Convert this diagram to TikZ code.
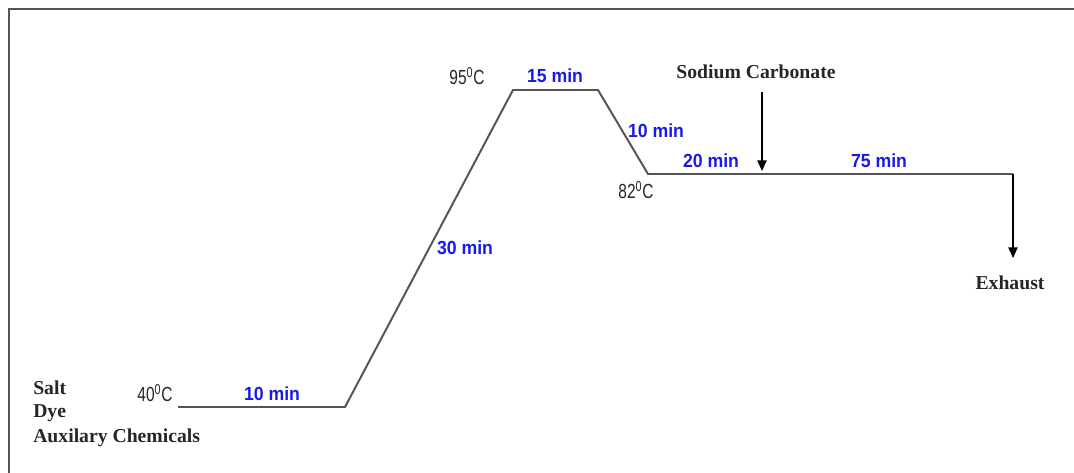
\documentclass[tikz,border=0pt]{standalone}
\usepackage{fontspec}
\setmainfont{Liberation Serif}
\newfontfamily\narrowsf[FakeStretch=0.76]{Liberation Sans}
\newfontfamily\labsf[FakeStretch=0.93]{Liberation Sans}
\usetikzlibrary{positioning,calc,arrows.meta}
\definecolor{minblue}{RGB}{25,25,235}
\definecolor{profgray}{RGB}{85,85,85}

\begin{document}
\begin{tikzpicture}[x=0.025cm,y=-0.025cm,
  temp/.style={font=\narrowsf\fontsize{14.5}{16}\selectfont,text=black!85,inner sep=0pt},
  tlab/.style={font=\labsf\bfseries\fontsize{13.5}{16}\selectfont,text=minblue,inner sep=0pt},
  chem/.style={font=\bfseries\fontsize{14}{16}\selectfont,text=black!85,inner sep=0pt},
  prof/.style={line width=1.4pt,profgray},
  arr/.style={line width=1pt,-{Triangle[length=7.5pt,width=6.5pt]}}]
\useasboundingbox (0,0) rectangle (1074,473);
% frame, only left and top edges inside the picture
\draw[line width=1.4pt,profgray] (9,490) -- (9,9) -- (1090,9);
% temperature profile
\coordinate (p0) at (178,407);
\coordinate (p1) at (345,407);
\coordinate (p2) at (513,90);
\coordinate (p3) at (598,90);
\coordinate (p4) at (648,174);
\coordinate (p5) at (1013,174);
\draw[prof] (p0) -- (p1) -- (p2) -- (p3) -- (p4) -- (p5);
% temperatures
\node[temp] (t40) at (155,393) {40\textsuperscript{0}C};
\node[temp] (t95) at (467,76) {95\textsuperscript{0}C};
\node[temp] (t82) at (636,190) {82\textsuperscript{0}C};
% times
\node[tlab] (m10a) at (272,394) {10 min};
\node[tlab] (m30) at (465,248) {30 min};
\node[tlab] (m15) at (555,76) {15 min};
\node[tlab] (m10b) at (656,131) {10 min};
\node[tlab] (m20) at (711,161) {20 min};
\node[tlab] (m75) at (879,161) {75 min};
% chemicals
\node[chem,anchor=west] (salt) at (33,388) {Salt};
\node[chem,anchor=west] (dye) at (33,413) {Dye};
\node[chem,anchor=west] (aux) at (33,438) {Auxilary Chemicals};
\node[chem] (soda) at (756,72) {Sodium Carbonate};
\node[chem] (exh) at (1010,283) {Exhaust};
% dosing and exhaust arrows
\coordinate (s0) at (762,92);
\coordinate (s1) at (762,171);
\coordinate (e1) at (1013,258);
\draw[arr] (s0) -- (s1);
\draw[arr] (p5) -- (e1);
\end{tikzpicture}
\end{document}
